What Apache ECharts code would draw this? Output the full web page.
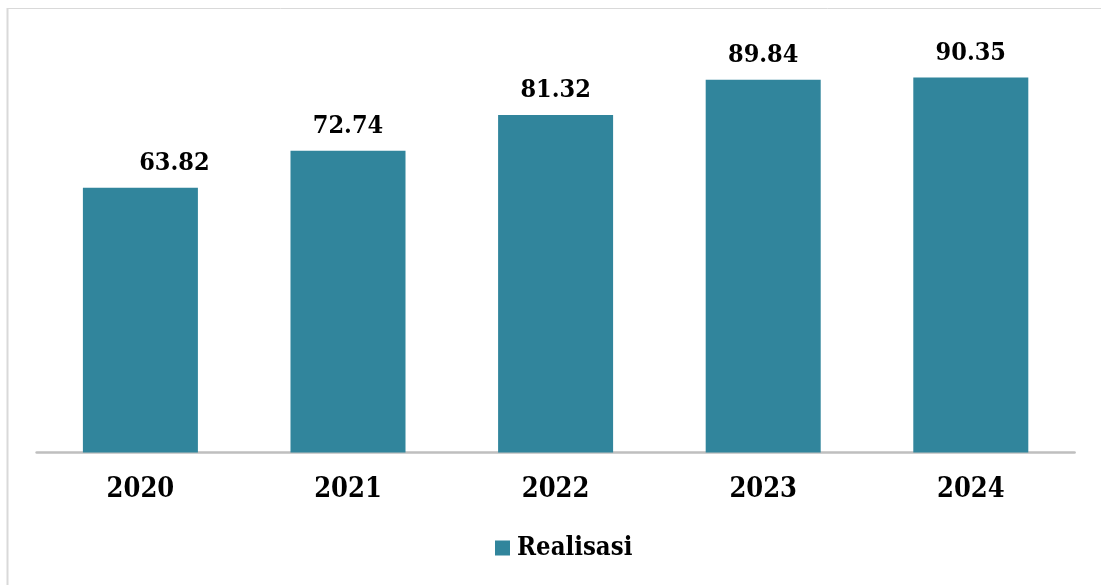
<!DOCTYPE html>
<html>
<head>
<meta charset="utf-8">
<script src="https://cdn.jsdelivr.net/npm/echarts@6/dist/echarts.min.js"></script>
<style>
html,body{margin:0;padding:0;background:#fff;}
#chart{width:1101px;height:585px;}
</style>
</head>
<body>
<div id="chart"></div>
<script>
const categories = ['2020', '2021', '2022', '2023', '2024'];
const seriesName = 'Realisasi';
const values = [63.82, 72.74, 81.32, 89.84, 90.35];

const FONT = '"DejaVu Serif Condensed", "DejaVu Serif", serif';
const chart = echarts.init(document.getElementById('chart'), null, {renderer: 'canvas'});
const data = values.map((v, i) => {
  const d = {value: v};
  if (i === 0) d.label = {offset: [34, 0]};
  return d;
});
chart.setOption({
  animation: false,
  backgroundColor: '#ffffff',
  graphic: [
    {type: 'line', shape: {x1: 7, y1: 8.5, x2: 1101, y2: 8.5}, style: {stroke: '#d9d9d9', lineWidth: 1}, silent: true},
    {type: 'line', shape: {x1: 7.5, y1: 8, x2: 7.5, y2: 585}, style: {stroke: '#d9d9d9', lineWidth: 2}, silent: true}
  ],
  grid: {left: 36.6, right: 26.4, top: 37.5, bottom: 132.5, containLabel: false},
  legend: {
    show: true,
    data: [seriesName],
    top: 530,
    left: 490,
    itemWidth: 15,
    itemHeight: 15,
    itemGap: 10,
    icon: 'rect',
    textStyle: {fontFamily: FONT, fontWeight: 'bold', fontSize: 25.5, color: '#000', padding: [0, 0, 0, 2]}
  },
  xAxis: {
    type: 'category',
    data: categories,
    axisLine: {show: true, lineStyle: {color: '#bfbfbf', width: 2.5}},
    axisTick: {show: false},
    axisLabel: {fontFamily: FONT, fontWeight: 'bold', fontSize: 27, color: '#000', margin: 24}
  },
  yAxis: {
    type: 'value',
    min: 0,
    max: 100,
    show: false,
    splitLine: {show: false}
  },
  series: [{
    name: seriesName,
    type: 'bar',
    data: data,
    barWidth: '55.4%',
    itemStyle: {color: '#31859C'},
    label: {
      show: true,
      position: 'top',
      distance: 12,
      fontFamily: FONT,
      fontWeight: 'bold',
      fontSize: 25,
      color: '#000',
      formatter: p => p.value.toFixed(2)
    }
  }]
});
</script>
</body>
</html>
